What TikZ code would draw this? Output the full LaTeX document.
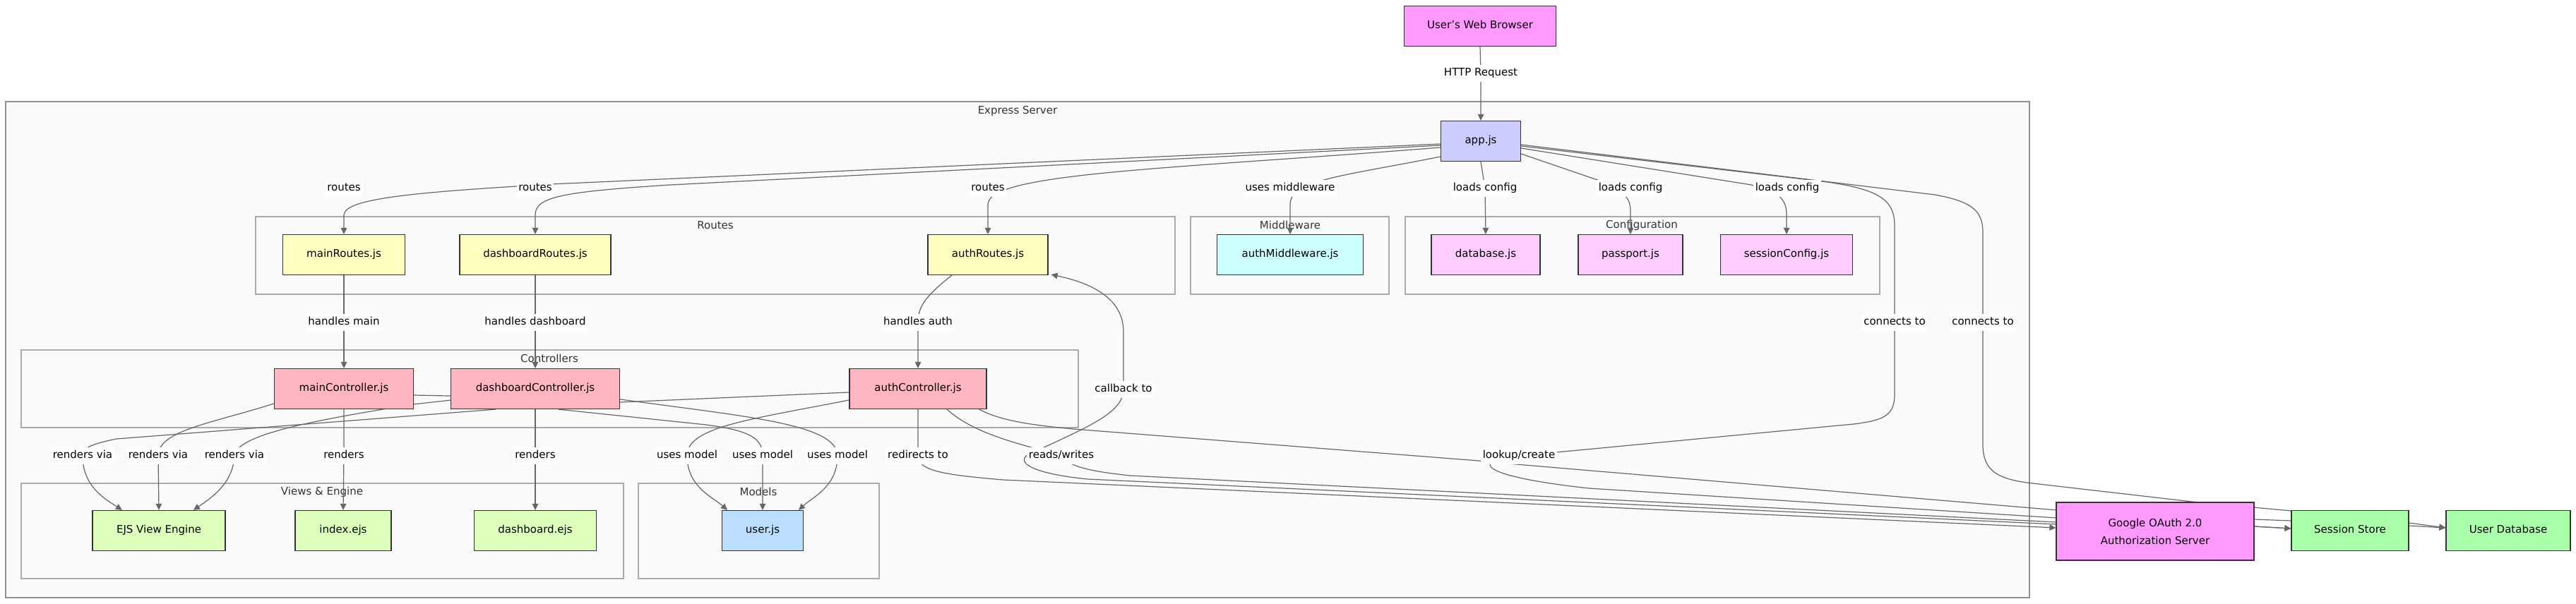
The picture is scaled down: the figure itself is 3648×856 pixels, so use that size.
\documentclass[tikz,border=0pt]{standalone}
\usepackage{fontspec}
\setmainfont{DejaVu Sans}
\usetikzlibrary{arrows.meta,calc}
\definecolor{edgecol}{HTML}{666666}
\definecolor{nodeline}{HTML}{333333}
\definecolor{clusterfill}{HTML}{FAFAFA}
\definecolor{clusterline}{HTML}{AAAAAA}
\definecolor{expline}{HTML}{909090}
\definecolor{textgrey}{HTML}{333333}
\definecolor{pinkB}{HTML}{FF99FF}
\definecolor{appC}{HTML}{CCCCFF}
\definecolor{routeC}{HTML}{FFFFC0}
\definecolor{mwC}{HTML}{CCFFFF}
\definecolor{cfgC}{HTML}{FFCCFF}
\definecolor{ctrlC}{HTML}{FFB6C1}
\definecolor{viewC}{HTML}{DDFFBB}
\definecolor{modelC}{HTML}{BBDDFF}
\definecolor{storeC}{HTML}{AAFFAA}
\pgfdeclarelayer{bg}
\pgfdeclarelayer{edges}
\pgfsetlayers{bg,edges,main}
\begin{document}
\begin{tikzpicture}[x=1pt,y=-1pt,
  every node/.style={font=\fontsize{15pt}{18pt}\selectfont, text=black},
  box/.style={draw=nodeline, line width=1.2pt, minimum height=57pt, inner sep=0pt, text height=11pt, text depth=3.5pt},
  elabel/.style={fill=white, inner xsep=2.5pt, inner ysep=5pt, text height=11pt, text depth=3.5pt},
  clab/.style={inner sep=0pt, text=textgrey},
  cluster/.style={fill=clusterfill, draw=clusterline, line width=1.4pt},
  edge/.style={draw=edgecol, line width=1.2pt, -{Triangle[length=9pt,width=8.5pt]}},
]
\useasboundingbox (0,0) rectangle (3648,856);

% ---------------- clusters ----------------
\begin{pgfonlayer}{bg}
\fill[white] (0,0) rectangle (3648,856);
\draw[fill=clusterfill, draw=expline, line width=1.2pt] (8,144) rectangle (2874,847);
\node[clab] (cExpress) at (1441,157) {Express Server};
\draw[cluster] (362,307) rectangle (1664,417);
\node[clab] (cRoutes) at (1013,319) {Routes};
\draw[cluster] (1686,307) rectangle (1967,417);
\node[clab] (cMiddleware) at (1827,319) {Middleware};
\draw[cluster] (1990,307) rectangle (2662,417);
\node[clab] (cConfig) at (2325,319) {Configuration};
\draw[cluster] (30,496) rectangle (1527,606);
\node[clab] (cControllers) at (778,508) {Controllers};
\draw[cluster] (30,685) rectangle (883,820);
\node[clab] (cViews) at (456,697) {Views \& Engine};
\draw[cluster] (904,685) rectangle (1245,820);
\node[clab] (cModels) at (1074,697) {Models};
\end{pgfonlayer}

% ---------------- nodes ----------------
\node[box, fill=pinkB, minimum width=215pt] (browser) at (2096,37) {User\symbol{39}s Web Browser};
\node[box, fill=appC, minimum width=113pt] (app) at (2097,200) {app.js};

\node[box, fill=routeC, minimum width=173pt] (mainR) at (487,361) {mainRoutes.js};
\node[box, fill=routeC, minimum width=214pt] (dashR) at (758,361) {dashboardRoutes.js};
\node[box, fill=routeC, minimum width=170pt] (authR) at (1399,361) {authRoutes.js};
\node[box, fill=mwC, minimum width=207pt] (authMW) at (1827,361) {authMiddleware.js};
\node[box, fill=cfgC, minimum width=154pt] (dbjs) at (2104,361) {database.js};
\node[box, fill=cfgC, minimum width=148pt] (passport) at (2309,361) {passport.js};
\node[box, fill=cfgC, minimum width=187pt] (sessCfg) at (2530,361) {sessionConfig.js};

\node[box, fill=ctrlC, minimum width=197pt] (mainC) at (487,551) {mainController.js};
\node[box, fill=ctrlC, minimum width=239pt] (dashC) at (758,551) {dashboardController.js};
\node[box, fill=ctrlC, minimum width=194pt] (authC) at (1300,551) {authController.js};

\node[box, fill=viewC, minimum width=188pt] (ejs) at (225,752) {EJS View Engine};
\node[box, fill=viewC, minimum width=136pt] (index) at (486,752) {index.ejs};
\node[box, fill=viewC, minimum width=173pt] (dashejs) at (758,752) {dashboard.ejs};
\node[box, fill=modelC, minimum width=115pt] (user) at (1080,752) {user.js};

\node[box, fill=pinkB, minimum width=280pt, minimum height=82pt, align=center, text height=, text depth=, font=\fontsize{15pt}{25pt}\selectfont] (google) at (3052,753) {Google OAuth 2.0\\Authorization Server};
\node[box, fill=storeC, minimum width=166pt] (session) at (3328,752) {Session Store};
\node[box, fill=storeC, minimum width=176pt] (userdb) at (3552,752) {User Database};

% ---------------- edge labels ----------------
\node[elabel] (lHttp) at (2097,104) {HTTP Request};
\node[elabel] (lR1) at (487,267) {routes};
\node[elabel] (lR2) at (758,267) {routes};
\node[elabel] (lR3) at (1399,267) {routes};
\node[elabel] (lMw) at (1827,267) {uses middleware};
\node[elabel] (lLc1) at (2103,267) {loads config};
\node[elabel] (lLc2) at (2309,267) {loads config};
\node[elabel] (lLc3) at (2531,267) {loads config};
\node[elabel] (lCt1) at (2683,457) {connects to};
\node[elabel] (lCt2) at (2808,457) {connects to};
\node[elabel] (lHm) at (487,457) {handles main};
\node[elabel] (lHd) at (758,457) {handles dashboard};
\node[elabel] (lHa) at (1300,457) {handles auth};
\node[elabel] (lCb) at (1591,552) {callback to};
\node[elabel] (lRv1) at (117,646) {renders via};
\node[elabel] (lRv2) at (224,646) {renders via};
\node[elabel] (lRv3) at (332,646) {renders via};
\node[elabel] (lRn1) at (487,646) {renders};
\node[elabel] (lRn2) at (758,646) {renders};
\node[elabel] (lUm1) at (973,646) {uses model};
\node[elabel] (lUm2) at (1080,646) {uses model};
\node[elabel] (lUm3) at (1186,646) {uses model};
\node[elabel] (lRd) at (1300,646) {redirects to};
\node[elabel] (lRw) at (1503,646) {reads/writes};
\node[elabel] (lLk) at (2151,646) {lookup/create};

% ---------------- edges ----------------
\begin{pgfonlayer}{edges}
\draw[edge] (browser.south) -- (lHttp.center) -- (app.north);
% app.js fan-out
\draw[edge] ($(app.west)+(0,4)$) -- (780,261) .. controls (600,272) and (487,280) .. (487,305) -- (mainR.north);
\draw[edge] ($(app.west)+(0,6)$) -- (950,262) .. controls (790,272) and (758,280) .. (758,305) -- (dashR.north);
\draw[edge] ($(app.west)+(0,9)$) .. controls (1650,240) and (1399,245) .. (1399,290) -- (authR.north);
\draw[edge] ($(app.west)+(0,22)$) .. controls (1900,250) and (1827,255) .. (1827,290) -- (authMW.north);
\draw[edge] (app.south) -- (lLc1.center) -- (dbjs.north);
\draw[edge] ($(app.east)+(0,18)$) -- (2265,256) .. controls (2300,270) and (2309,280) .. (2309,300) -- (passport.north);
\draw[edge] ($(app.east)+(0,10)$) -- (2480,262) .. controls (2520,272) and (2530,282) .. (2530,305) -- (sessCfg.north);
% connects to (1)
\draw[edge] ($(app.east)+(0,7)$) -- (2580,257) .. controls (2665,268) and (2683,285) .. (2683,320) -- (lCt1.center) -- (2683,560)
  .. controls (2683,590) and (2665,596) .. (2625,601) -- (lLk.center)
  .. controls (2080,653) and (2095,675) .. (2250,692) -- (2913,734) -- (3192,746) -- ($(session.west)+(0,-3)$);
% connects to (2)
\draw[edge] ($(app.east)+(0,5)$) -- (2740,276) .. controls (2795,286) and (2808,300) .. (2808,330) -- (lCt2.center) -- (2808,630)
  .. controls (2808,668) and (2830,678) .. (2870,684) -- (3104,711) -- (3245,724) -- (3411,741) -- ($(userdb.west)+(0,-4)$);
% routes -> controllers
\draw[edge] (mainR.south) -- (lHm.center) -- (mainC.north);
\draw[edge] (dashR.south) -- (lHd.center) -- (dashC.north);
\draw[edge] ($(authR.south)+(-51,0)$) .. controls (1310,420) and (1300,435) .. (lHa.center) -- (authC.north);
% renders
\draw[edge] (mainC.south) -- (lRn1.center) -- (index.north);
\draw[edge] (dashC.south) -- (lRn2.center) -- (dashejs.north);
% renders via
\draw[edge] ($(dashC.south)+(-56,0)$) -- (165,622) .. controls (125,630) and (117,636) .. (lRv1.center)
  .. controls (117,690) and (150,708) .. ($(ejs.north)+(-52,0)$);
\draw[edge] ($(mainC.west)+(0,21)$) .. controls (300,600) and (224,610) .. (lRv2.center) -- (ejs.north);
\draw[edge] ($(authC.west)+(0,5)$) -- (879,570) -- (639,567) -- (585,573) .. controls (450,595) and (335,615) .. (lRv3.center)
  .. controls (330,685) and (300,705) .. ($(ejs.north)+(49,0)$);
% uses model
\draw[edge] ($(authC.west)+(0,16)$) .. controls (1060,595) and (973,605) .. (lUm1.center)
  .. controls (973,690) and (1010,705) .. ($(user.north)+(-50,0)$);
\draw[edge] ($(dashC.south)+(33,0)$) -- (1000,602) .. controls (1060,610) and (1080,620) .. (lUm2.center) -- (user.north);
\draw[edge] ($(mainC.east)+(0,9)$) -- (879,566) .. controls (1050,590) and (1186,600) .. (lUm3.center)
  .. controls (1186,690) and (1150,705) .. ($(user.north)+(51,0)$);
% external services
\draw[edge] (authC.south) -- (lRd.center) .. controls (1300,668) and (1340,673) .. (1420,680) -- ($(google.west)+(0,-5)$);
\draw[edge] ($(authC.south)+(41,0)$) .. controls (1380,615) and (1440,628) .. (lRw.center)
  .. controls (1515,662) and (1545,668) .. (1600,674) -- (2912,740) -- (3192,746) -- ($(session.west)+(0,-3)$);
\draw[edge] ($(authC.south east)+(-11,0)$) .. controls (1420,598) and (1470,603) .. (1520,608) -- (2094,653) -- (2135,657)
  -- (2913,723) -- (3192,736) -- (3245,738) -- (3411,745) -- ($(userdb.west)+(0,-4)$);
\draw[edge] ($(google.west)+(0,-10)$) -- (1540,679) .. controls (1450,670) and (1430,650) .. (1470,638)
  .. controls (1540,605) and (1591,585) .. (lCb.center) -- (1591,470) .. controls (1591,420) and (1540,400) .. ($(authR.south east)+(4,-1)$);
\end{pgfonlayer}
\end{tikzpicture}
\end{document}
